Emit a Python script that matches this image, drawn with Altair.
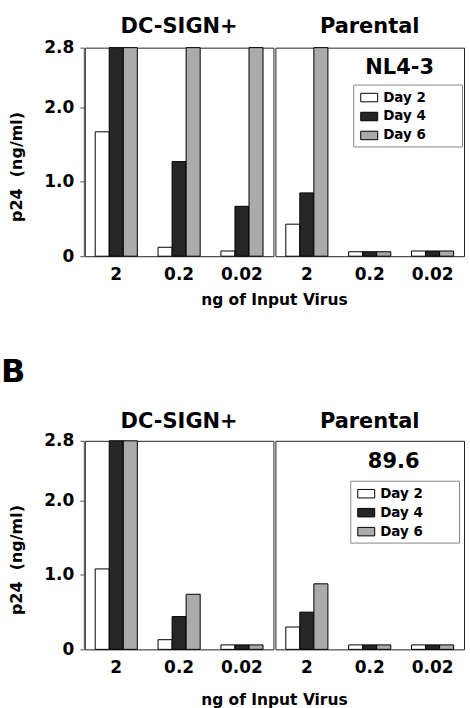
import altair as alt
import pandas as pd

FONT = "DejaVu Sans"

cells = ["DC-SIGN+", "Parental"]
doses = ["2", "0.2", "0.02"]
days = ["Day 2", "Day 4", "Day 6"]
fills = ["white", "#262626", "#ababab"]

# p24 (ng/ml) per input dose (2, 0.2, 0.02 ng); readings past the axis top are held at 2.8
nl43_dcsign_day2 = [1.67, 0.12, 0.07]
nl43_dcsign_day4 = [2.8, 1.27, 0.67]
nl43_dcsign_day6 = [2.8, 2.8, 2.8]
nl43_parental_day2 = [0.43, 0.06, 0.07]
nl43_parental_day4 = [0.85, 0.06, 0.07]
nl43_parental_day6 = [2.8, 0.06, 0.07]

v896_dcsign_day2 = [1.08, 0.13, 0.06]
v896_dcsign_day4 = [2.8, 0.44, 0.06]
v896_dcsign_day6 = [2.8, 0.74, 0.06]
v896_parental_day2 = [0.30, 0.06, 0.06]
v896_parental_day4 = [0.50, 0.06, 0.06]
v896_parental_day6 = [0.88, 0.06, 0.06]

y_ticks = [0, 0.5, 1, 1.5, 2, 2.5, 2.8]


def build_frame(strain, series):
    rows = []
    for cell, per_day in zip(cells, series):
        for day, vals in zip(days, per_day):
            for dose, v in zip(doses, vals):
                rows.append({"strain": strain, "cell": cell, "day": day,
                             "dose": dose, "p24": v})
    return pd.DataFrame(rows)


def panel(strain, series, legend_xy, label_dx, header_pad, title_pad, title=None):
    df = build_frame(strain, series)
    base = alt.Chart(df)

    bars = base.mark_bar(stroke="black", strokeWidth=1).encode(
        x=alt.X("dose:N", sort=doses,
                scale=alt.Scale(paddingInner=0.33, paddingOuter=0.165),
                axis=alt.Axis(title=None, labelAngle=0, ticks=False, domain=False,
                              labelFont=FONT, labelFontSize=17, labelFontWeight="bold",
                              labelColor="black", labelPadding=9)),
        xOffset=alt.XOffset("day:N", sort=days),
        y=alt.Y("p24:Q", scale=alt.Scale(domain=[0, 2.8], nice=False, zero=True),
                axis=alt.Axis(title="p24\u00a0\u00a0(ng/ml)", values=y_ticks, grid=False,
                              labelExpr="datum.value == 0 ? '0' : (datum.value == 1 || datum.value == 2 || datum.value == 2.8) ? format(datum.value, '.1f') : ''",
                              tickSize=4, tickColor="#555", domainColor="#555",
                              labelFont=FONT, labelFontSize=17, labelFontWeight="bold",
                              labelColor="black", labelPadding=6,
                              titleFont=FONT, titleFontSize=16, titleFontWeight="bold",
                              titleColor="black", titlePadding=19, titleY=119)),
        color=alt.Color("day:N", sort=days,
                        scale=alt.Scale(domain=days, range=fills),
                        legend=alt.Legend(title=None, orient="none",
                                          legendX=legend_xy[0], legendY=legend_xy[1],
                                          direction="vertical",
                                          symbolType="M-1,-0.5H1V0.5H-1Z", symbolSize=289,
                                          symbolStrokeColor="black", symbolStrokeWidth=1,
                                          symbolOpacity=1, symbolOffset=3,
                                          labelFont=FONT, labelFontSize=13.5,
                                          labelFontWeight="bold", labelColor="black",
                                          labelOffset=5, rowPadding=3, padding=4,
                                          labelExpr="datum.label + '\u2800\u2800\u2800'",
                                          strokeColor="#888", fillColor="white")),
    )

    label = base.mark_text(font=FONT, fontSize=21, fontWeight="bold", color="black",
                           baseline="middle", dx=label_dx).encode(
        x=alt.X("dose:N", sort=doses),
        y=alt.datum(2.52),
        text="strain:N",
    ).transform_filter(
        (alt.datum.cell == "Parental") & (alt.datum.dose == "0.2") & (alt.datum.day == "Day 2")
    )

    chart = alt.layer(bars, label).properties(width=189, height=209).facet(
        column=alt.Column("cell:N", sort=cells,
                          header=alt.Header(title="ng of Input Virus", titleOrient="bottom",
                                            labelOrient="top",
                                            labelExpr="(datum.value == 'DC-SIGN+' ? '\u2800\u2800\u2800' : '\u2800\u2800') + datum.label",
                                            labelFont=FONT, labelFontSize=21,
                                            labelFontWeight="bold", labelColor="black",
                                            labelPadding=header_pad,
                                            titleFont=FONT, titleFontSize=15.5,
                                            titleFontWeight="bold", titleColor="black",
                                            titlePadding=title_pad)),
        spacing=0,
    )
    if title is not None:
        chart = chart.properties(title=title)
    return chart


top = panel("NL4-3",
            [[nl43_dcsign_day2, nl43_dcsign_day4, nl43_dcsign_day6],
             [nl43_parental_day2, nl43_parental_day4, nl43_parental_day6]],
            (269, 37), 30, 10, 1)

bottom = panel("89.6",
               [[v896_dcsign_day2, v896_dcsign_day4, v896_dcsign_day6],
                [v896_parental_day2, v896_parental_day4, v896_parental_day6]],
               (266, 40), 24, 8, 8,
               title=alt.TitleParams("B", anchor="start", font=FONT, fontSize=32,
                                     fontWeight="bold", color="black", dx=-8, offset=22))

chart = alt.vconcat(top, bottom, spacing=47).resolve_scale(color="independent").properties(
    padding={"left": 0, "top": 15, "right": 5, "bottom": 0},
    background="white",
).configure_view(stroke="#222", strokeWidth=1)

chart.save("out.html", embed_options={"renderer": "svg", "actions": False})
